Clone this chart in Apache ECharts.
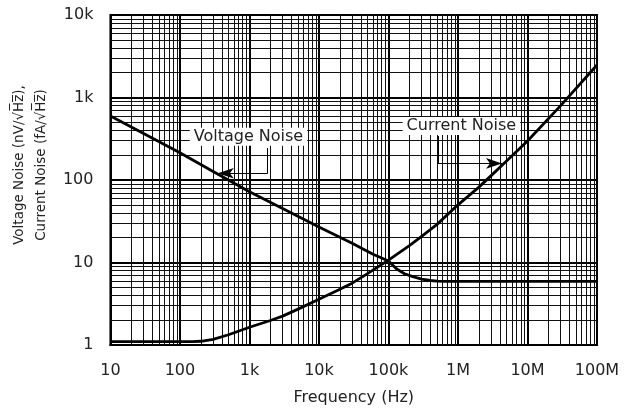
<!DOCTYPE html>
<html><head><meta charset="utf-8">
<script src="https://cdn.jsdelivr.net/npm/echarts@6/dist/echarts.min.js"></script>
<style>html,body{margin:0;padding:0;background:#fff}#c{width:631px;height:413px}</style>
</head><body><div id="c"></div>
<script>
const xTickValues = [10, 100, 1e3, 1e4, 1e5, 1e6, 1e7, 1e8];
const xTickLabels = ['10', '100', '1k', '10k', '100k', '1M', '10M', '100M'];
const yTickValues = [1, 10, 100, 1000, 10000];
const yTickLabels = ['1', '10', '100', '1k', '10k'];

const voltFreq = [10, 30, 100, 300, 1000, 3000, 10000, 30000, 60000, 100000, 130000, 170000, 230000, 300000, 400000, 500000, 650000, 1e6, 1e7, 1e8];
const voltNoise = [597, 366, 214, 127, 72, 45, 27, 17.1, 12.6, 10.4, 8.4, 7.3, 6.7, 6.3, 6.05, 5.95, 5.9, 5.9, 5.9, 5.9];

const currFreq = [10, 100, 150, 200, 300, 500, 1000, 2000, 3000, 5000, 10000, 20000, 30000, 50000, 100000, 200000, 300000, 500000, 1e6, 2e6, 3e6, 5e6, 1e7, 3e7, 1e8];
const currNoise = [1.1, 1.1, 1.1, 1.11, 1.17, 1.33, 1.64, 1.98, 2.24, 2.72, 3.58, 4.73, 5.62, 7.33, 10.7, 16, 20.7, 29, 50, 82, 113, 170, 297, 798, 2480];

// annotation anchors (data coordinates)
const voltLabelAt = [968, 335];
const voltLeader = [[1832, 244], [1832, 120.6], [351, 120.6]];
const currLabelAt = [1120000, 451];
const currLeader = [[513000, 341], [513000, 159], [4300000, 159]];

const minorX = [], minorY = [];
for (let d = 10; d < 1e8; d *= 10) for (let m = 2; m <= 9; m++) minorX.push(d * m);
for (let d = 1; d < 1e4; d *= 10) for (let m = 2; m <= 9; m++) minorY.push(d * m);

const FONT = 'DejaVu Sans, sans-serif';
const TXT = '#222';
const zip = (a, b) => a.map((v, i) => [v, b[i]]);
function lbl(vals, labs) { return v => { const i = vals.findIndex(t => Math.abs(Math.log10(t) - Math.log10(v)) < 1e-6); return i >= 0 ? labs[i] : ''; }; }

const chart = echarts.init(document.getElementById('c'), null, { renderer: 'canvas' });
chart.setOption({
  animation: false,
  grid: { left: 109, right: 34, top: 15, bottom: 68, show: true, borderColor: '#000', borderWidth: 2, backgroundColor: '#fff' },
  xAxis: {
    type: 'log', logBase: 10, min: 10, max: 1e8, splitNumber: 7,
    name: 'Frequency (Hz)', nameLocation: 'middle', nameGap: 45,
    nameTextStyle: { fontFamily: FONT, fontSize: 16, color: TXT },
    axisLine: { show: true, lineStyle: { color: '#000', width: 2 } },
    axisTick: { show: false },
    axisLabel: { formatter: lbl(xTickValues, xTickLabels), fontFamily: FONT, fontSize: 16, color: TXT, margin: 18 },
    splitLine: { show: true, lineStyle: { color: '#000', width: 2 } }
  },
  yAxis: {
    type: 'log', logBase: 10, min: 1, max: 10000, splitNumber: 4,
    name: 'Voltage Noise (nV/\u221AH\u0305z\u0305),\nCurrent Noise (fA/\u221AH\u0305z\u0305)',
    nameLocation: 'middle', nameGap: 55, nameRotate: 90,
    nameTextStyle: { fontFamily: FONT, fontSize: 13.5, color: TXT, lineHeight: 22, padding: [0, 0, 0, 30] },
    axisLine: { show: true, lineStyle: { color: '#000', width: 2 } },
    axisTick: { show: false },
    axisLabel: { formatter: lbl(yTickValues, yTickLabels), fontFamily: FONT, fontSize: 16, color: TXT, margin: 17, padding: [4, 0, 0, 0] },
    splitLine: { show: true, lineStyle: { color: '#000', width: 2 } }
  },
  series: [
    {
      type: 'line', data: [], z: 1, silent: true,
      markLine: {
        silent: true, symbol: 'none', label: { show: false }, animation: false,
        lineStyle: { color: '#111', width: 1, type: 'solid' },
        emphasis: { disabled: true },
        data: minorX.map(v => ({ xAxis: v })).concat(minorY.map(v => ({ yAxis: v })))
      }
    },
    {
      name: 'Voltage Noise', type: 'line', data: zip(voltFreq, voltNoise), z: 5,
      showSymbol: false, smooth: false,
      lineStyle: { color: '#000', width: 2.8, join: 'round' },
      markLine: {
        silent: true, label: { show: false }, symbol: 'none', animation: false,
        lineStyle: { color: '#000', width: 1, type: 'solid' },
        data: [
          [{ coord: voltLeader[0], symbol: 'none' }, { coord: voltLeader[1], symbol: 'none' }],
          [{ coord: voltLeader[1], symbol: 'none' }, { coord: voltLeader[2], symbol: 'arrow', symbolSize: [8, 16] }]
        ]
      },
      markPoint: {
        silent: true, symbol: 'rect', symbolSize: 0, animation: false,
        label: { show: true, position: 'inside', formatter: 'Voltage Noise', fontFamily: FONT, fontSize: 16, color: TXT, backgroundColor: '#fff', padding: [1, 4] },
        data: [{ coord: voltLabelAt }]
      }
    },
    {
      name: 'Current Noise', type: 'line', data: zip(currFreq, currNoise), z: 5,
      showSymbol: false, smooth: false,
      lineStyle: { color: '#000', width: 2.8, join: 'round' },
      markLine: {
        silent: true, label: { show: false }, symbol: 'none', animation: false,
        lineStyle: { color: '#000', width: 1, type: 'solid' },
        data: [
          [{ coord: currLeader[0], symbol: 'none' }, { coord: currLeader[1], symbol: 'none' }],
          [{ coord: currLeader[1], symbol: 'none' }, { coord: currLeader[2], symbol: 'arrow', symbolSize: [8, 16] }]
        ]
      },
      markPoint: {
        silent: true, symbol: 'rect', symbolSize: 0, animation: false,
        label: { show: true, position: 'inside', formatter: 'Current Noise', fontFamily: FONT, fontSize: 16, color: TXT, backgroundColor: '#fff', padding: [1, 4] },
        data: [{ coord: currLabelAt }]
      }
    }
  ]
});
</script></body></html>
